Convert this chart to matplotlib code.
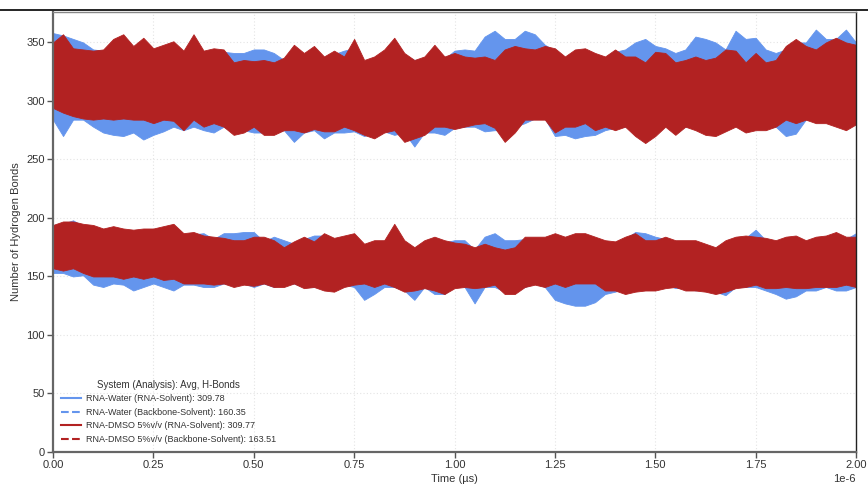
import numpy as np
import matplotlib
matplotlib.use("Agg")
import matplotlib.pyplot as plt
from matplotlib.lines import Line2D

# Sampling times (µs), one every 25 ns over the 2 µs trajectory
time_us = np.arange(81) * 0.025

# H-bond count envelopes (max / min over each 25 ns window)
water_rna_hi = [358, 356, 353, 350, 344, 343, 345, 345, 344, 346, 343, 345, 344, 341, 344, 341, 343, 342, 341, 341,
                344, 344, 341, 335, 338, 339, 340, 336, 340, 343, 345, 333, 336, 342, 345, 339, 335, 336, 342, 336,
                343, 344, 343, 355, 360, 353, 353, 360, 357, 348, 343, 336, 342, 343, 339, 336, 342, 344, 350, 353,
                347, 345, 341, 344, 355, 353, 350, 344, 360, 353, 354, 344, 341, 344, 350, 350, 361, 353, 353, 361,
                350]
water_rna_lo = [284, 270, 284, 284, 278, 273, 271, 270, 273, 267, 271, 274, 278, 275, 278, 275, 273, 278, 273, 275,
                273, 273, 273, 275, 265, 273, 275, 268, 273, 273, 274, 270, 273, 274, 271, 273, 261, 273, 273, 271,
                277, 278, 278, 274, 275, 275, 278, 281, 285, 285, 270, 271, 268, 270, 271, 275, 277, 278, 275, 272,
                281, 284, 278, 278, 278, 278, 278, 278, 281, 278, 278, 278, 278, 270, 272, 284, 284, 284, 283, 284,
                284]
water_bb_hi = [194, 195, 198, 193, 192, 189, 190, 189, 188, 189, 189, 190, 192, 181, 186, 187, 182, 187, 187, 188,
               188, 180, 184, 181, 178, 182, 185, 185, 181, 183, 185, 176, 179, 179, 185, 179, 173, 179, 182, 179,
               181, 181, 173, 184, 187, 181, 181, 182, 182, 182, 180, 178, 175, 175, 175, 179, 178, 182, 188, 187,
               184, 182, 179, 179, 179, 176, 173, 179, 182, 183, 190, 181, 179, 182, 183, 179, 182, 183, 186, 182,
               187]
water_bb_lo = [153, 153, 150, 151, 143, 141, 144, 143, 138, 141, 144, 141, 138, 143, 143, 141, 141, 144, 143, 144,
               141, 144, 141, 143, 144, 141, 141, 141, 141, 143, 141, 130, 135, 141, 141, 138, 130, 141, 135, 135,
               143, 141, 127, 141, 141, 137, 138, 141, 144, 141, 130, 127, 125, 125, 128, 135, 137, 140, 141, 141,
               141, 144, 140, 141, 138, 140, 137, 134, 141, 141, 141, 138, 135, 131, 133, 138, 138, 141, 138, 138,
               141]
dmso_rna_hi = [350, 357, 345, 344, 343, 344, 353, 357, 347, 354, 345, 348, 351, 343, 357, 343, 345, 344, 333, 335,
               334, 335, 333, 337, 348, 341, 347, 338, 343, 338, 353, 335, 338, 344, 354, 341, 335, 338, 348, 338,
               341, 338, 337, 338, 335, 344, 347, 345, 344, 347, 345, 338, 344, 345, 341, 338, 344, 338, 338, 333,
               342, 341, 333, 335, 338, 335, 337, 344, 343, 333, 341, 333, 335, 347, 353, 347, 344, 350, 354, 350,
               348]
dmso_rna_lo = [294, 290, 287, 285, 284, 285, 284, 285, 284, 284, 281, 284, 283, 275, 284, 278, 281, 278, 271, 273,
               278, 271, 271, 275, 275, 273, 276, 274, 274, 278, 275, 271, 268, 273, 275, 265, 268, 271, 278, 278,
               276, 278, 280, 281, 277, 265, 273, 284, 284, 284, 273, 278, 278, 281, 275, 278, 275, 278, 270, 264,
               270, 278, 271, 278, 275, 271, 270, 274, 278, 273, 275, 275, 278, 284, 281, 284, 281, 281, 278, 275,
               280]
dmso_bb_hi = [194, 197, 197, 195, 194, 191, 193, 191, 190, 191, 191, 193, 195, 187, 188, 185, 184, 183, 181, 181,
              184, 184, 181, 175, 180, 184, 180, 187, 183, 185, 187, 178, 181, 181, 195, 181, 175, 181, 184, 181,
              179, 178, 175, 178, 175, 173, 175, 184, 184, 184, 187, 184, 187, 187, 184, 181, 180, 184, 187, 181,
              181, 184, 181, 181, 181, 178, 175, 181, 184, 185, 184, 183, 181, 184, 185, 181, 184, 185, 188, 184,
              184]
dmso_bb_lo = [157, 155, 157, 153, 150, 150, 150, 148, 150, 148, 150, 147, 148, 144, 144, 144, 143, 144, 141, 143,
              142, 144, 141, 141, 144, 140, 141, 138, 137, 141, 143, 144, 141, 144, 141, 137, 138, 140, 138, 135,
              140, 141, 140, 141, 143, 135, 135, 141, 143, 141, 144, 141, 144, 144, 144, 138, 138, 135, 137, 138,
              138, 140, 141, 138, 138, 137, 135, 137, 140, 141, 143, 140, 140, 141, 140, 140, 141, 141, 141, 143,
              141]

series_labels = [
    "RNA-Water (RNA-Solvent): 309.78",
    "RNA-Water (Backbone-Solvent): 160.35",
    "RNA-DMSO 5%v/v (RNA-Solvent): 309.77",
    "RNA-DMSO 5%v/v (Backbone-Solvent): 163.51",
]
legend_title = "System (Analysis): Avg, H-Bonds"
x_label = "Time (µs)"
y_label = "Number of Hydrogen Bonds"
y_ticks = [0, 50, 100, 150, 200, 250, 300, 350]

BLUE = "#6495ED"
RED = "#B22222"

plt.rcParams["font.family"] = ["Liberation Sans", "DejaVu Sans"]
plt.rcParams["axes.unicode_minus"] = False

fig = plt.figure(figsize=(8.68, 4.84), dpi=100)
ax = fig.add_axes([53 / 868, 32 / 484, 803 / 868, 440 / 484])

t = time_us * 1e-6
bands = [
    (water_rna_lo, water_rna_hi, BLUE),
    (water_bb_lo, water_bb_hi, BLUE),
    (dmso_rna_lo, dmso_rna_hi, RED),
    (dmso_bb_lo, dmso_bb_hi, RED),
]
for lo, hi, col in bands:
    ax.fill_between(t, lo, hi, facecolor=col, edgecolor=col, linewidth=0.6, zorder=2)

ax.set_xlim(0, 2e-6)
ax.set_ylim(0, 376)
ax.set_yticks(y_ticks)
ax.set_xticks(np.arange(9) * 0.25e-6)

ax.grid(True, color="#e4e4e4", linestyle=(0, (1, 2)), linewidth=0.8, zorder=0)
ax.set_axisbelow(True)

for side in ("left", "bottom"):
    ax.spines[side].set_color("#666666")
    ax.spines[side].set_linewidth(1.6)
ax.spines["top"].set_color("#888888")
ax.spines["top"].set_linewidth(1.0)
ax.spines["right"].set_color("#222222")
ax.spines["right"].set_linewidth(1.0)

ax.tick_params(axis="both", direction="out", length=4, width=1.0, color="#555555",
               labelsize=8, labelcolor="#333333", pad=2)
ax.xaxis.get_offset_text().set_fontsize(8)
ax.xaxis.get_offset_text().set_color("#333333")

ax.set_xlabel(x_label, fontsize=8, color="#333333", labelpad=3)
ax.set_ylabel(y_label, fontsize=8, color="#333333", labelpad=4)

handles = [
    Line2D([], [], color=BLUE, lw=1.5, ls="-"),
    Line2D([], [], color=BLUE, lw=1.5, ls="--"),
    Line2D([], [], color=RED, lw=1.5, ls="-"),
    Line2D([], [], color=RED, lw=1.5, ls="--"),
]
leg = ax.legend(handles, series_labels, title=legend_title, loc="lower left",
                bbox_to_anchor=(0.0, 0.0), frameon=False, fontsize=6.5,
                title_fontsize=7, handlelength=2.2, handletextpad=0.6,
                labelspacing=0.5, borderaxespad=0.5)
leg.get_title().set_color("#333333")
for txt in leg.get_texts():
    txt.set_color("#333333")

# Rule across the top of the figure
fig.add_artist(Line2D([0, 1], [474.5 / 484, 474.5 / 484], transform=fig.transFigure,
                      color="black", linewidth=1.2))

fig.savefig("out.png", dpi=100)
